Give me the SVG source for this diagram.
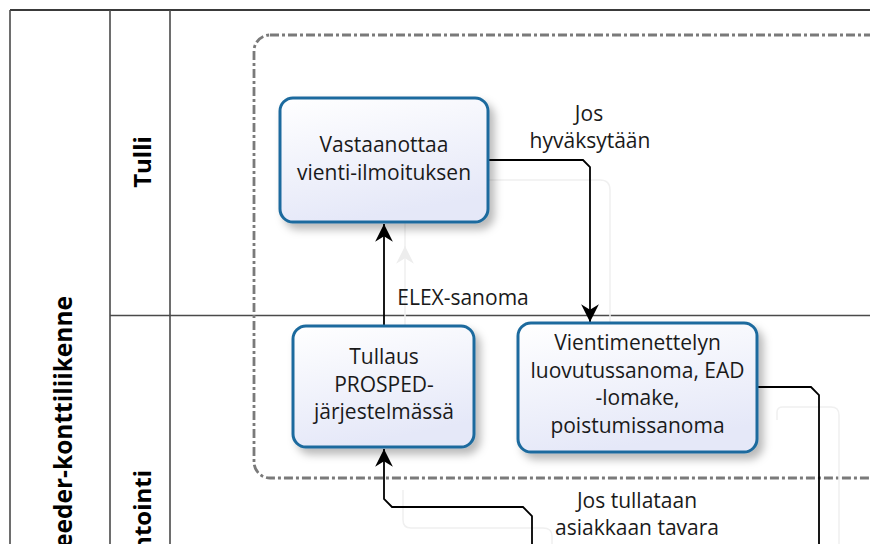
<svg xmlns="http://www.w3.org/2000/svg" width="870" height="544" viewBox="0 0 870 544">
<defs>
<style>
.lane{stroke:#4a4a4a;stroke-width:1.6;fill:none}
.lbl{font-family:"Open Sans","Noto Sans",sans-serif;font-weight:bold;font-size:24px;fill:#000}
.nodebox{fill:url(#g);stroke:#1e6b9e;stroke-width:3;filter:url(#sh)}
.nt{font-family:"Open Sans","Noto Sans",sans-serif;font-size:21px;fill:#1a1a1a;text-anchor:middle}
.con{stroke:#000;stroke-width:1.8;fill:none}
.ghost{stroke:#f0f0f0;stroke-width:1.5;fill:none}
.grp{fill:none;stroke:#7a7a7a;stroke-width:2.8;stroke-dasharray:9 3 3 3}
</style>
<linearGradient id="g" x1="0" y1="0" x2="0.3" y2="1">
<stop offset="0" stop-color="#ffffff"/>
<stop offset="1" stop-color="#e5e8f8"/>
</linearGradient>
<filter id="sh" x="-20%" y="-20%" width="150%" height="150%">
<feDropShadow dx="5" dy="6" stdDeviation="4" flood-color="#000" flood-opacity="0.28"/>
</filter>
<marker id="arr" markerUnits="userSpaceOnUse" markerWidth="20" markerHeight="20" viewBox="-17 -9 18 18" refX="0" refY="0" orient="auto">
<path d="M0,0 L-16,-8 L-11,0 L-16,8 Z" fill="#000"/>
</marker>
<marker id="garr" markerUnits="userSpaceOnUse" markerWidth="20" markerHeight="20" viewBox="-17 -9 18 18" refX="0" refY="0" orient="auto">
<path d="M0,0 L-16,-8 L-11,0 L-16,8 Z" fill="#ededed"/>
</marker>
</defs>
<rect width="870" height="544" fill="#ffffff"/>

<g id="pool">
<line x1="10" y1="10" x2="870" y2="10" stroke="#3a3a3a" stroke-width="2.2"/>
<line class="lane" x1="10" y1="10" x2="10" y2="544"/>
<line class="lane" x1="110" y1="10" x2="110" y2="544"/>
<line class="lane" x1="170" y1="10" x2="170" y2="544"/>
<line class="lane" x1="110" y1="315.5" x2="870" y2="315.5"/>
<text class="lbl" text-anchor="end" transform="translate(72,296) rotate(-90)" style="font-size:24.5px">eeder-konttiliikenne</text>
<text class="lbl" text-anchor="middle" transform="translate(151,162) rotate(-90)">Tulli</text>
<text class="lbl" text-anchor="end" transform="translate(151,470) rotate(-90)">ntointi</text>
</g>

<g id="group">
<rect class="grp" x="254" y="35" width="650" height="443" rx="16"/>
</g>

<g id="ghosts">
<path class="ghost" d="M405,330 V190 Q405,180 415,180 H600 Q610,180 610,190 V330"/>
<path class="ghost" d="M405,250 L405,246" marker-end="url(#garr)"/>
<path class="ghost" d="M403,490 V520 Q403,528 411,528 H543 Q552,528 552,536 V544"/>
<path class="ghost" d="M777,420 V412 Q777,407 783,407 H831 Q839,407 839,415 V544"/>
</g>

<g id="connectors">
<path class="con" d="M384,326 V224" marker-end="url(#arr)"/>
<path class="con" d="M488,160 H583 L590,167 V322" marker-end="url(#arr)"/>
<path class="con" d="M532,544 V516 L523,507 H392 L384,499 V449" marker-end="url(#arr)"/>
<path class="con" d="M757,387 H811 L819,395 V544"/>
<text class="nt" x="589" y="121">Jos</text>
<text class="nt" x="590" y="148">hyväksytään</text>
<text class="nt" x="463" y="305">ELEX-sanoma</text>
<text class="nt" x="637" y="508">Jos tullataan</text>
<text class="nt" x="637" y="535">asiakkaan tavara</text>
</g>

<g id="n1">
<rect class="nodebox" x="280" y="98" width="208" height="124" rx="13"/>
<text class="nt" x="384" y="152">Vastaanottaa</text>
<text class="nt" x="384" y="180">vienti-ilmoituksen</text>
</g>

<g id="n2">
<rect class="nodebox" x="293" y="326" width="181" height="121" rx="13"/>
<text class="nt" x="384" y="364">Tullaus</text>
<text class="nt" x="384" y="391.5">PROSPED-</text>
<text class="nt" x="384" y="419">järjestelmässä</text>
</g>

<g id="n3">
<rect class="nodebox" x="518" y="323" width="239" height="129" rx="13"/>
<text class="nt" x="637.5" y="350">Vientimenettelyn</text>
<text class="nt" x="637.5" y="377.5">luovutussanoma, EAD</text>
<text class="nt" x="637.5" y="405">-lomake,</text>
<text class="nt" x="637.5" y="432.5">poistumissanoma</text>
</g>
</svg>
